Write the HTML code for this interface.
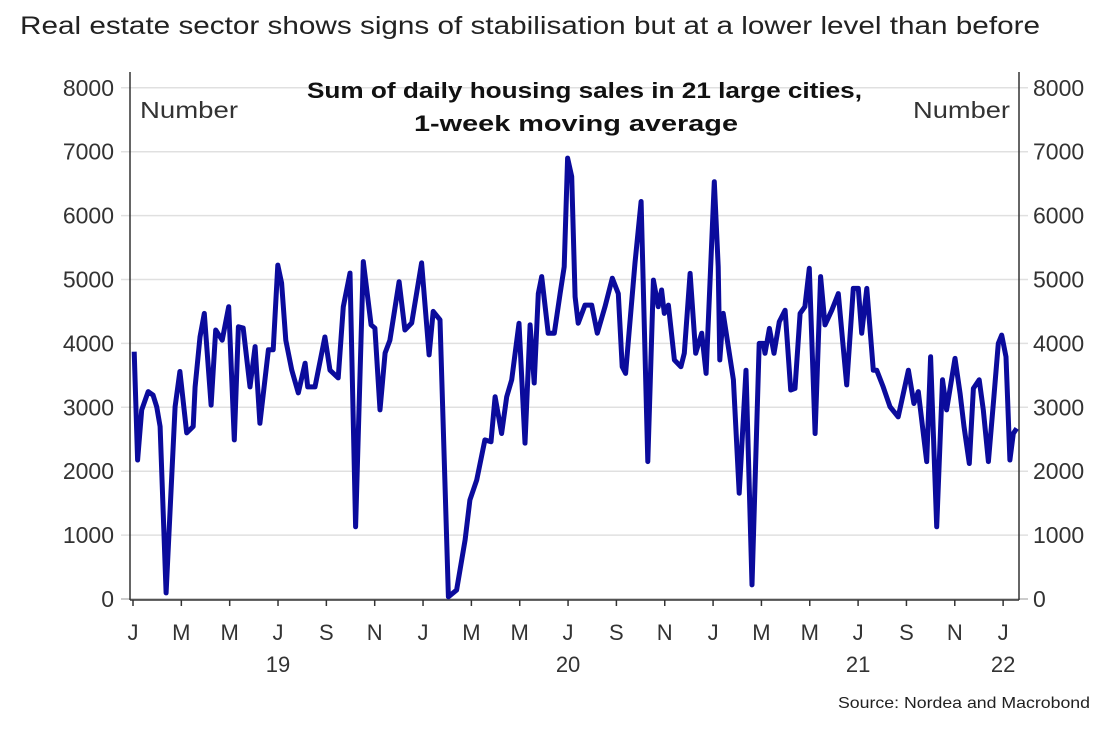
<!DOCTYPE html>
<html><head><meta charset="utf-8"><style>
body{margin:0;background:#fff;width:1113px;height:729px;overflow:hidden;font-family:"Liberation Sans",sans-serif}
svg text{font-family:"Liberation Sans",sans-serif}
</style></head><body>
<svg id="c" width="1113" height="729">
<text x="20" y="34" font-size="25" fill="#222" textLength="1020" lengthAdjust="spacingAndGlyphs">Real estate sector shows signs of stabilisation but at a lower level than before</text>
<g id="grid"></g>
<line x1="130" y1="72" x2="130" y2="600" stroke="#333" stroke-width="1.5"/>
<line x1="1019" y1="72" x2="1019" y2="600" stroke="#333" stroke-width="1.5"/>
<line x1="130" y1="600" x2="1019" y2="600" stroke="#333" stroke-width="1.5"/>
<g id="xt"></g>
<text x="140" y="118" font-size="23" fill="#333" textLength="98" lengthAdjust="spacingAndGlyphs">Number</text>
<text x="913" y="118" font-size="23" fill="#333" textLength="97" lengthAdjust="spacingAndGlyphs">Number</text>
<text x="307" y="98" font-size="22" font-weight="bold" fill="#111" textLength="555" lengthAdjust="spacingAndGlyphs">Sum of daily housing sales in 21 large cities,</text>
<text x="414" y="131" font-size="22" font-weight="bold" fill="#111" textLength="324" lengthAdjust="spacingAndGlyphs">1-week moving average</text>
<path id="line" fill="none" stroke="#0b0b9c" stroke-width="5" stroke-linejoin="round"/>
<text x="838" y="708" font-size="16" fill="#222" textLength="252" lengthAdjust="spacingAndGlyphs">Source: Nordea and Macrobond</text>
</svg>
<script>
const months=[0.05,0.19,0.36,0.63,0.83,0.98,1.12,1.37,1.74,1.94,2.22,2.49,2.57,2.77,2.95,3.23,3.42,3.69,3.96,4.19,4.36,4.56,4.84,5.05,5.25,5.60,5.80,5.99,6.15,6.32,6.57,6.84,7.12,7.23,7.53,7.94,8.15,8.49,8.70,8.98,9.21,9.53,9.85,10.01,10.22,10.43,10.63,11.01,11.25,11.53,11.94,12.25,12.42,12.70,13.05,13.39,13.74,13.94,14.22,14.56,14.81,14.98,15.25,15.46,15.67,15.97,16.22,16.43,16.60,16.77,16.91,17.18,17.43,17.67,17.84,17.98,18.15,18.29,18.42,18.70,18.98,19.21,19.53,19.83,20.08,20.24,20.38,20.52,20.77,21.02,21.30,21.53,21.73,21.87,21.98,22.15,22.40,22.67,22.81,23.05,23.28,23.53,23.71,24.05,24.21,24.28,24.42,24.63,24.84,25.08,25.36,25.61,25.91,26.08,26.15,26.33,26.52,26.74,26.98,27.21,27.39,27.60,27.80,27.98,28.22,28.45,28.63,28.91,29.18,29.53,29.80,30.01,30.15,30.36,30.63,30.77,31.04,31.32,31.66,31.84,32.08,32.31,32.49,32.84,33.00,33.25,33.49,33.66,34.01,34.22,34.38,34.60,34.77,35.01,35.18,35.39,35.62,35.80,35.94,36.12,36.28,36.42,36.56];
const sales=[3870,2175,2960,3245,3190,3010,2700,95,3010,3560,2600,2700,3320,4100,4470,3035,4210,4050,4575,2490,4260,4240,3320,3950,2750,3900,3900,5225,4945,4050,3580,3225,3690,3320,3320,4100,3580,3460,4575,5100,1130,5280,4290,4240,2960,3850,4050,4965,4210,4320,5260,3820,4500,4370,35,140,925,1550,1860,2490,2460,3165,2590,3165,3430,4315,2440,4290,3380,4780,5045,4160,4160,4780,5200,6900,6610,4730,4315,4600,4600,4160,4575,5020,4780,3635,3530,4160,5260,6220,2150,4990,4575,4835,4470,4600,3740,3635,3845,5095,3845,4160,3530,6530,5200,3740,4470,3950,3430,1655,3580,220,4000,4000,3845,4235,3845,4340,4520,3270,3295,4470,4575,5175,2590,5045,4290,4520,4780,3350,4860,4860,4160,4860,3580,3580,3320,3010,2850,3165,3580,3060,3245,2150,3790,1130,3430,2960,3765,3215,2700,2120,3295,3430,2960,2150,3165,4000,4130,3790,2175,2590,2670];
const yTicks=[0,1000,2000,3000,4000,5000,6000,7000,8000];
const monthLabels=["J","M","M","J","S","N","J","M","M","J","S","N","J","M","M","J","S","N","J"];
const yearLabels=["19","20","21","22"];
const NS="http://www.w3.org/2000/svg";
const x=m=>133+m*24.17, y=v=>599-v*0.0639;
const grid=document.getElementById('grid'), xt=document.getElementById('xt');
function mk(tag,attrs,parent,txt){const e=document.createElementNS(NS,tag);for(const k in attrs)e.setAttribute(k,attrs[k]);if(txt!==undefined)e.textContent=txt;parent.appendChild(e);return e;}
yTicks.forEach(v=>{
 const g=mk('line',{x1:121,x2:1028,y1:y(v),y2:y(v),stroke:v===0?'#bbb':'#e0e0e0','stroke-width':1.5},grid);
 
 
 const l=mk('text',{x:114,y:y(v)+8,'font-size':23,fill:'#333','text-anchor':'end'},grid,v);
 
 
 const r=mk('text',{x:1033,y:y(v)+8,'font-size':23,fill:'#333'},grid,v);
 
 
});
monthLabels.forEach((t,i)=>{
 const px=x(i*2);
 const tk=mk('line',{x1:px,x2:px,y1:600,y2:606,stroke:'#333','stroke-width':1.5},xt);
 
 
 const l=mk('text',{x:px,y:640,'font-size':22,fill:'#333','text-anchor':'middle'},xt,t);
 
 
});
yearLabels.forEach((t,i)=>{
 const px=i<3?x(i*12+6):x(36);
 const l=mk('text',{x:px,y:672,'font-size':22,fill:'#333','text-anchor':'middle'},xt,t);
 
 
});
document.getElementById('line').setAttribute('d',months.map((m,i)=>(i?'L':'M')+x(m).toFixed(1)+' '+y(sales[i]).toFixed(1)).join(' '));
</script>
</body></html>
